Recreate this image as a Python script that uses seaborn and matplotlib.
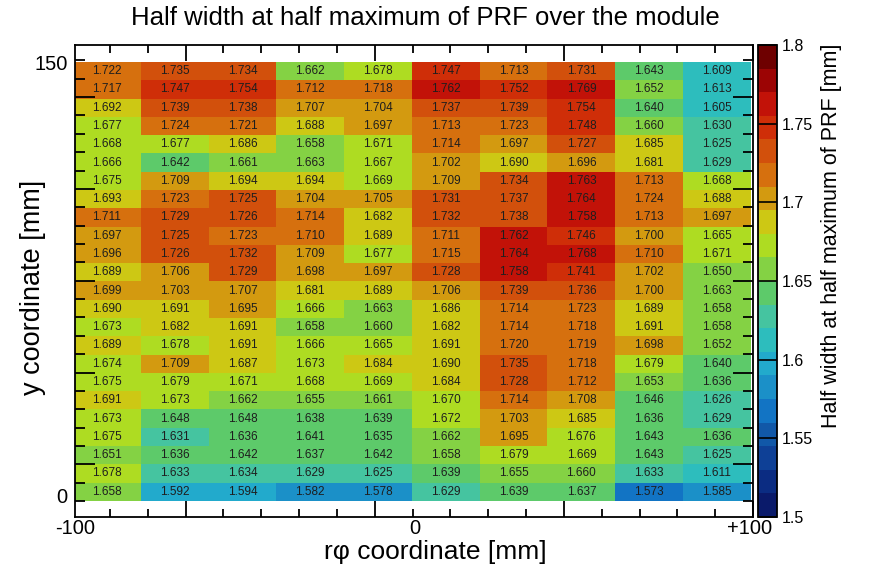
import numpy as np
import matplotlib
matplotlib.use("Agg")
import matplotlib.pyplot as plt
import matplotlib.transforms as mtransforms
from matplotlib.colors import ListedColormap, BoundaryNorm
import seaborn as sns

# HWHM of the PRF per cell, top row (y ~ 150 mm) first, columns left to right in r-phi
hwhm_rows = [
    [1.722, 1.735, 1.734, 1.662, 1.678, 1.747, 1.713, 1.731, 1.643, 1.609],
    [1.717, 1.747, 1.754, 1.712, 1.718, 1.762, 1.752, 1.769, 1.652, 1.613],
    [1.692, 1.739, 1.738, 1.707, 1.704, 1.737, 1.739, 1.754, 1.640, 1.605],
    [1.677, 1.724, 1.721, 1.688, 1.697, 1.713, 1.723, 1.748, 1.660, 1.630],
    [1.668, 1.677, 1.686, 1.658, 1.671, 1.714, 1.697, 1.727, 1.685, 1.625],
    [1.666, 1.642, 1.661, 1.663, 1.667, 1.702, 1.690, 1.696, 1.681, 1.629],
    [1.675, 1.709, 1.694, 1.694, 1.669, 1.709, 1.734, 1.763, 1.713, 1.668],
    [1.693, 1.723, 1.725, 1.704, 1.705, 1.731, 1.737, 1.764, 1.724, 1.688],
    [1.711, 1.729, 1.726, 1.714, 1.682, 1.732, 1.738, 1.758, 1.713, 1.697],
    [1.697, 1.725, 1.723, 1.710, 1.689, 1.711, 1.762, 1.746, 1.700, 1.665],
    [1.696, 1.726, 1.732, 1.709, 1.677, 1.715, 1.764, 1.768, 1.710, 1.671],
    [1.689, 1.706, 1.729, 1.698, 1.697, 1.728, 1.758, 1.741, 1.702, 1.650],
    [1.699, 1.703, 1.707, 1.681, 1.689, 1.706, 1.739, 1.736, 1.700, 1.663],
    [1.690, 1.691, 1.695, 1.666, 1.663, 1.686, 1.714, 1.723, 1.689, 1.658],
    [1.673, 1.682, 1.691, 1.658, 1.660, 1.682, 1.714, 1.718, 1.691, 1.658],
    [1.689, 1.678, 1.691, 1.666, 1.665, 1.691, 1.720, 1.719, 1.698, 1.652],
    [1.674, 1.709, 1.687, 1.673, 1.684, 1.690, 1.735, 1.718, 1.679, 1.640],
    [1.675, 1.679, 1.671, 1.668, 1.669, 1.684, 1.728, 1.712, 1.653, 1.636],
    [1.691, 1.673, 1.662, 1.655, 1.661, 1.670, 1.714, 1.708, 1.646, 1.626],
    [1.673, 1.648, 1.648, 1.638, 1.639, 1.672, 1.703, 1.685, 1.636, 1.629],
    [1.675, 1.631, 1.636, 1.641, 1.635, 1.662, 1.695, 1.676, 1.643, 1.636],
    [1.651, 1.636, 1.642, 1.637, 1.642, 1.658, 1.679, 1.669, 1.643, 1.625],
    [1.678, 1.633, 1.634, 1.629, 1.625, 1.639, 1.655, 1.660, 1.633, 1.611],
    [1.658, 1.592, 1.594, 1.582, 1.578, 1.629, 1.639, 1.637, 1.573, 1.585],
]

x_tick_labels = ["-100", "0", "+100"]
y_tick_labels = ["150", "0"]
cbar_ticks = [1.5, 1.55, 1.6, 1.65, 1.7, 1.75, 1.8]
cbar_labels = ["1.5", "1.55", "1.6", "1.65", "1.7", "1.75", "1.8"]

# ROOT-like rainbow palette, 20 levels from 1.5 to 1.8
palette = [
    "#0a1a6a", "#0b2c82", "#0e4096", "#1158a8", "#1274c4",
    "#1b90c8", "#22aacc", "#2dbdbd", "#45c4a0", "#5dca6a",
    "#84d244", "#aedc22", "#cdc814", "#d39a10", "#d6700e",
    "#d2500c", "#cf2e08", "#c21208", "#9c0404", "#6e0000",
]
cmap = ListedColormap(palette)
norm = BoundaryNorm(np.linspace(1.5, 1.8, 21), cmap.N)

plt.rcParams["font.family"] = ["Liberation Sans", "DejaVu Sans"]

W, H = 874, 572
fig = plt.figure(figsize=(W / 100, H / 100), dpi=100)
fl, fr, ft, fb = 75, 753, 45, 517
ax = fig.add_axes([fl / W, 1 - fb / H, (fr - fl) / W, (fb - ft) / H])
cax = fig.add_axes([758 / W, 1 - fb / H, 19 / W, (fb - ft) / H])

data = np.array(hwhm_rows)
sns.heatmap(data, ax=ax, cbar_ax=cax, cmap=cmap, norm=norm,
            annot=True, fmt=".3f",
            annot_kws={"fontsize": 8.5, "color": "#1e1e1e"})

# frame a bit larger than the cells, like the ROOT pad
ax.set_xlim(0.03, 9.97)
ax.set_ylim(24.88, -0.93)
for s in ax.spines.values():
    s.set_visible(True)
    s.set_linewidth(1.3)
    s.set_color("black")

# tick marks (no labels), ticks on all four sides pointing in
xmaj = 1.662 + 2.79 * np.arange(0, 4)
xmin = 1.662 + 0.558 * np.arange(-2, 15)
xmin = xmin[(xmin > 0.05) & (xmin < 9.95)]
ymaj = 1.92 + 5.02 * np.arange(0, 5)
ymin = 1.92 + 1.004 * np.arange(-2, 23)
ymin = ymin[(ymin > -0.9) & (ymin < 24.85)]
ax.set_xticks(xmaj)
ax.set_xticks(xmin, minor=True)
ax.set_yticks(ymaj)
ax.set_yticks(ymin, minor=True)
ax.set_xticklabels([])
ax.set_yticklabels([])
ax.tick_params(axis="x", which="major", direction="in", length=11.5, width=1.3,
               top=True, bottom=True)
ax.tick_params(axis="x", which="minor", direction="in", length=5.8, width=1.3,
               top=True, bottom=True)
ax.tick_params(axis="y", which="major", direction="in", length=14.4, width=1.3,
               left=True, right=True)
ax.tick_params(axis="y", which="minor", direction="in", length=7.2, width=1.3,
               left=True, right=True)
ax.set_xlabel("")
ax.set_ylabel("")

# axis labels placed like ROOT's custom labels
ytr = mtransforms.blended_transform_factory(ax.transAxes, ax.transData)
for lab, r in zip(y_tick_labels, [0.16, 23.84]):
    ax.text(-0.011, r, lab, transform=ytr, ha="right", va="center", fontsize=14.5)
for lab, px in zip(x_tick_labels, [75, 415, 750]):
    fig.text(px / W, 1 - 528 / H, lab, ha="center", va="center", fontsize=14.5)

fig.text(435 / W, 1 - 552 / H, "r\u03c6 coordinate [mm]", ha="center", va="center",
         fontsize=19)
fig.text(33 / W, 1 - 287 / H, "y coordinate [mm]", ha="center", va="center",
         rotation=90, fontsize=19.5)
fig.text(425 / W, 1 - 25 / H, "Half width at half maximum of PRF over the module",
         ha="center", va="baseline", fontsize=18.5)

# colorbar styling
cb = ax.collections[0].colorbar
cb.set_ticks(cbar_ticks)
cb.set_ticklabels(cbar_labels)
cb.ax.tick_params(direction="in", length=13.7, width=1.2, pad=3.5, labelsize=11.5)
cb.ax.minorticks_off()
cb.outline.set_linewidth(1.3)
cb.outline.set_edgecolor("black")
fig.text(832 / W, 1 - 236 / H, "Half width at half maximum of PRF [mm]",
         ha="center", va="center", rotation=90, fontsize=15.5)

fig.savefig("out.png", dpi=100)
